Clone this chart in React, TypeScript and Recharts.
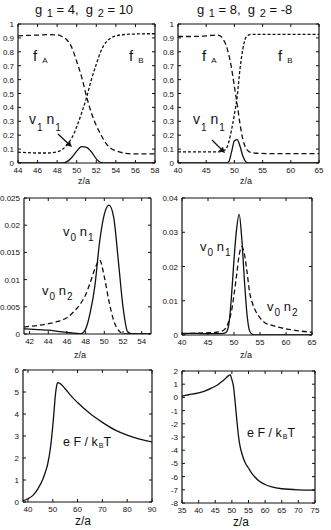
import { LineChart, Line, XAxis, YAxis, ReferenceLine } from 'recharts';

const FONT = '"Liberation Sans", Arial, Helvetica, sans-serif';
const INK = '#111';

// top left: g1 = 4, g2 = 10
const z1 = [44, 45, 46, 47, 48, 48.5, 49, 49.5, 50, 50.5, 51, 51.5, 52, 52.5, 53, 53.5, 54, 55, 56, 57, 58];
const fA1 = [0.915, 0.918, 0.92, 0.923, 0.922, 0.91, 0.885, 0.83, 0.73, 0.62, 0.48, 0.36, 0.27, 0.2, 0.14, 0.105, 0.088, 0.07, 0.065, 0.065, 0.065];
const fB1 = [0.078, 0.074, 0.072, 0.072, 0.08, 0.095, 0.13, 0.18, 0.26, 0.36, 0.47, 0.6, 0.71, 0.81, 0.87, 0.9, 0.915, 0.925, 0.928, 0.93, 0.93];
const vn1 = [0, 0, 0, 0, 0, 0, 0.01, 0.04, 0.085, 0.118, 0.112, 0.08, 0.03, 0.003, 0, 0, 0, 0, 0, 0, 0];

// top right: g1 = 8, g2 = -8
const z2 = [40, 42, 44, 46, 47, 47.5, 48, 48.5, 49, 49.5, 50, 50.5, 51, 51.5, 52, 52.5, 53, 54, 56, 58, 60, 62, 65];
const fA2 = [0.91, 0.91, 0.912, 0.918, 0.92, 0.915, 0.89, 0.85, 0.78, 0.68, 0.55, 0.42, 0.28, 0.17, 0.11, 0.085, 0.075, 0.07, 0.068, 0.068, 0.068, 0.068, 0.068];
const fB2 = [0.08, 0.08, 0.08, 0.08, 0.08, 0.082, 0.088, 0.1, 0.15, 0.24, 0.35, 0.48, 0.68, 0.82, 0.9, 0.92, 0.925, 0.925, 0.925, 0.925, 0.925, 0.925, 0.925];
const vn2 = [0, 0, 0, 0, 0, 0, 0, 0, 0.01, 0.08, 0.16, 0.168, 0.12, 0.05, 0.01, 0, 0, 0, 0, 0, 0, 0, 0];

// middle left
const z3 = [41.4, 42, 43, 44, 45, 46, 47, 47.5, 48, 48.5, 49, 49.5, 50, 50.5, 51, 51.5, 52, 52.5, 53, 54, 55];
const n1_3 = [0.00095, 0.0009, 0.0008, 0.0007, 0.0005, 0.0003, 0.0001, 0.00005, 0.0009, 0.004, 0.009, 0.017, 0.022, 0.0237, 0.0215, 0.0135, 0.005, 0.0004, 0, 0, 0];
const n2_3 = [0.0013, 0.0014, 0.0016, 0.0019, 0.0023, 0.003, 0.0046, 0.0057, 0.0072, 0.0095, 0.012, 0.0136, 0.0105, 0.006, 0.0025, 0.0007, 0.0001, 0, 0, 0, 0];

// middle right
const z4 = [40, 42, 44, 46, 47, 48, 48.5, 49, 49.5, 50, 50.5, 51, 51.5, 52, 52.5, 53, 53.5, 54, 55, 56, 57, 58, 60, 62, 65];
const n1_4 = [0.0005, 0.0005, 0.0004, 0.0004, 0.0004, 0.0005, 0.0008, 0.003, 0.011, 0.022, 0.031, 0.0352, 0.028, 0.016, 0.006, 0.0012, 0.0002, 0, 0, 0, 0, 0, 0, 0, 0];
const n2_4 = [0.0003, 0.0005, 0.0006, 0.0007, 0.0009, 0.0014, 0.0022, 0.004, 0.0068, 0.0117, 0.0175, 0.0234, 0.0258, 0.0236, 0.0185, 0.0125, 0.0095, 0.0075, 0.005, 0.0035, 0.003, 0.0025, 0.0018, 0.0013, 0.0008];

// bottom
const z5 = [38, 40, 42, 44, 46, 47, 48, 49, 50, 50.5, 51, 51.5, 52, 53, 55, 57, 60, 65, 70, 75, 80, 85, 90];
const F5 = [0.06, 0.15, 0.3, 0.6, 1.03, 1.35, 1.75, 2.4, 3.45, 4.1, 4.8, 5.25, 5.43, 5.38, 5.15, 4.87, 4.52, 4.02, 3.62, 3.28, 3.04, 2.86, 2.73];
const z6 = [35, 37, 40, 42, 44, 46, 47, 48, 49, 49.5, 50, 50.5, 51, 51.5, 52, 52.5, 53, 54, 55, 56, 57, 58, 60, 62, 65, 70, 75];
const F6 = [0.1, 0.2, 0.35, 0.5, 0.72, 1.0, 1.2, 1.42, 1.65, 1.7, 1.35, 0.8, -0.4, -1.75, -2.95, -3.75, -4.25, -4.95, -5.35, -5.75, -6.05, -6.3, -6.6, -6.78, -6.92, -7.0, -7.02];

const ticksF = [0, 0.1, 0.2, 0.3, 0.4, 0.5, 0.6, 0.7, 0.8, 0.9, 1];

type Series = { key: string; dash?: string };

interface PanelProps {
  box: [number, number, number, number];
  data: Record<string, number>[];
  xDomain: [number, number];
  xTicks: number[];
  yDomain: [number, number];
  yTicks: number[];
  series: Series[];
}

const PL = 40;
const PT = 6;
const PR = 6;
const PB = 30;

function Panel({ box, data, xDomain, xTicks, yDomain, yTicks, series }: PanelProps) {
  const [left, top, w, h] = box;
  const xTick = (p: any) => (
    <g>
      <line x1={p.x} x2={p.x} y1={p.y} y2={p.y - 3} stroke={INK} />
      <line x1={p.x} x2={p.x} y1={p.y - h} y2={p.y - h + 3} stroke={INK} />
      <text x={p.x} y={p.y + 10} textAnchor="middle" fontSize={8} fontFamily={FONT} fill={INK}>
        {p.payload.value}
      </text>
    </g>
  );
  const yTick = (p: any) => (
    <g>
      <line x1={p.x} x2={p.x + 3} y1={p.y} y2={p.y} stroke={INK} />
      <line x1={p.x + w} x2={p.x + w - 3} y1={p.y} y2={p.y} stroke={INK} />
      <text x={p.x - 4} y={p.y + 3} textAnchor="end" fontSize={8} fontFamily={FONT} fill={INK}>
        {p.payload.value}
      </text>
    </g>
  );
  return (
    <div style={{ position: 'absolute', left: left - PL, top: top - PT }}>
      <LineChart
        width={w + PL + PR}
        height={h + PT + PB}
        data={data}
        margin={{ top: PT, right: PR, left: 0, bottom: 0 }}
      >
        <XAxis
          dataKey="z"
          type="number"
          domain={xDomain}
          ticks={xTicks}
          interval={0}
          allowDataOverflow
          height={PB}
          tickSize={0}
          tickMargin={0}
          tickLine={false}
          tick={xTick}
          axisLine={{ stroke: INK, strokeWidth: 1.2 }}
        />
        <YAxis
          type="number"
          domain={yDomain}
          ticks={yTicks}
          interval={0}
          allowDataOverflow
          width={PL}
          tickSize={0}
          tickMargin={0}
          tickLine={false}
          tick={yTick}
          axisLine={{ stroke: INK, strokeWidth: 1.2 }}
        />
        <ReferenceLine y={yDomain[1]} stroke={INK} strokeWidth={1.2} />
        <ReferenceLine x={xDomain[1]} stroke={INK} strokeWidth={1.2} />
        {series.map((s) => (
          <Line
            key={s.key}
            dataKey={s.key}
            type="monotone"
            stroke={INK}
            strokeWidth={1.3}
            strokeDasharray={s.dash}
            dot={false}
            isAnimationActive={false}
          />
        ))}
      </LineChart>
    </div>
  );
}

type Part = [string, boolean];

function Rich({ x, y, size, sub, off, parts }: { x: number; y: number; size: number; sub: number; off: number; parts: Part[] }) {
  let shift = 0;
  return (
    <text x={x} y={y} fontSize={size} fontFamily={FONT} fill={INK} style={{ whiteSpace: 'pre' }}>
      {parts.map(([t, s], i) => {
        const target = s ? off : 0;
        const dy = target - shift;
        shift = target;
        return (
          <tspan key={i} dy={dy} dx={s ? 1 : 0} fontSize={s ? sub : size}>
            {t}
          </tspan>
        );
      })}
    </text>
  );
}

function Arrow({ x1, y1, x2, y2 }: { x1: number; y1: number; x2: number; y2: number }) {
  const len = Math.hypot(x2 - x1, y2 - y1);
  const dx = (x2 - x1) / len;
  const dy = (y2 - y1) / len;
  const bx = x2 - dx * 6;
  const by = y2 - dy * 6;
  const pts = `${x2},${y2} ${bx - dy * 3},${by + dx * 3} ${bx + dy * 3},${by - dx * 3}`;
  return (
    <g>
      <line x1={x1} y1={y1} x2={bx} y2={by} stroke={INK} strokeWidth={1.3} />
      <polygon points={pts} fill={INK} />
    </g>
  );
}

const zLabel = (x: number, y: number, size: number) => (
  <text x={x} y={y} textAnchor="middle" fontSize={size} fontFamily={FONT} fill={INK}>
    z/a
  </text>
);

export default function App() {
  const d1 = z1.map((z, i) => ({ z, fA: fA1[i], fB: fB1[i], vn: vn1[i] }));
  const d2 = z2.map((z, i) => ({ z, fA: fA2[i], fB: fB2[i], vn: vn2[i] }));
  const d3 = z3.map((z, i) => ({ z, n1: n1_3[i], n2: n2_3[i] }));
  const d4 = z4.map((z, i) => ({ z, n1: n1_4[i], n2: n2_4[i] }));
  const d5 = z5.map((z, i) => ({ z, F: F5[i] }));
  const d6 = z6.map((z, i) => ({ z, F: F6[i] }));

  const fSeries: Series[] = [
    { key: 'fA', dash: '5 3' },
    { key: 'fB', dash: '3 2' },
    { key: 'vn' },
  ];
  const nSeries: Series[] = [{ key: 'n1' }, { key: 'n2', dash: '5 3' }];

  return (
    <div style={{ position: 'absolute', left: 0, top: 0, width: 331, height: 530, background: '#fff', overflow: 'hidden' }}>
      <Panel box={[18, 24, 137, 139]} data={d1} xDomain={[44, 58]} xTicks={[44, 46, 48, 50, 52, 54, 56, 58]} yDomain={[0, 1]} yTicks={ticksF} series={fSeries} />
      <Panel box={[178, 24, 141, 139]} data={d2} xDomain={[40, 65]} xTicks={[40, 45, 50, 55, 60, 65]} yDomain={[0, 1]} yTicks={ticksF} series={fSeries} />
      <Panel box={[24, 198, 127, 136]} data={d3} xDomain={[41.4, 55]} xTicks={[42, 44, 46, 48, 50, 52, 54]} yDomain={[0, 0.025]} yTicks={[0, 0.005, 0.01, 0.015, 0.02, 0.025]} series={nSeries} />
      <Panel box={[182, 198, 130, 137]} data={d4} xDomain={[40, 65]} xTicks={[40, 45, 50, 55, 60, 65]} yDomain={[0, 0.04]} yTicks={[0, 0.01, 0.02, 0.03, 0.04]} series={nSeries} />
      <Panel box={[23, 370, 129, 132]} data={d5} xDomain={[38, 90]} xTicks={[40, 50, 60, 70, 80, 90]} yDomain={[0, 6]} yTicks={[0, 1, 2, 3, 4, 5, 6]} series={[{ key: 'F' }]} />
      <Panel box={[182, 371, 133, 132]} data={d6} xDomain={[35, 75]} xTicks={[35, 40, 45, 50, 55, 60, 65, 70, 75]} yDomain={[-8, 2]} yTicks={[-8, -7, -6, -5, -4, -3, -2, -1, 0, 1, 2]} series={[{ key: 'F' }]} />

      <svg width={331} height={530} style={{ position: 'absolute', left: 0, top: 0, pointerEvents: 'none' }}>
        <Rich x={35} y={14} size={13} sub={11} off={3} parts={[['g ', false], ['1', true], [' = 4,  g ', false], ['2', true], [' = 10', false]]} />
        <Rich x={197} y={14} size={13} sub={11} off={3} parts={[['g ', false], ['1', true], [' = 8,  g ', false], ['2', true], [' = -8', false]]} />

        <Rich x={33} y={61} size={15} sub={8} off={2} parts={[['f ', false], ['A', true]]} />
        <Rich x={129} y={61} size={15} sub={8} off={2} parts={[['f ', false], ['B', true]]} />
        <Rich x={29} y={124} size={14} sub={10} off={7} parts={[['v', false], ['1', true], [' n', false], ['1', true]]} />
        <Arrow x1={58} y1={134} x2={72} y2={147} />

        <Rich x={202} y={61} size={15} sub={8} off={2} parts={[['f ', false], ['A', true]]} />
        <Rich x={278} y={61} size={15} sub={8} off={2} parts={[['f ', false], ['B', true]]} />
        <Rich x={193} y={124} size={14} sub={10} off={7} parts={[['v', false], ['1', true], [' n', false], ['1', true]]} />
        <Arrow x1={212} y1={140} x2={225} y2={153} />

        <Rich x={63} y={236} size={13} sub={10} off={5} parts={[['v', false], ['0', true], [' n', false], ['1', true]]} />
        <Rich x={42} y={295} size={13} sub={10} off={5} parts={[['v', false], ['0', true], [' n', false], ['2', true]]} />
        <Rich x={200} y={251} size={13} sub={10} off={5} parts={[['v', false], ['0', true], [' n', false], ['1', true]]} />
        <Rich x={267} y={311} size={13} sub={10} off={5} parts={[['v', false], ['0', true], [' n', false], ['2', true]]} />

        <Rich x={63} y={446} size={12.5} sub={7} off={2} parts={[['e F / k', false], ['B', true], ['T', false]]} />
        <Rich x={247} y={437} size={12.5} sub={7} off={2} parts={[['e F / k', false], ['B', true], ['T', false]]} />

        {zLabel(84, 184, 9)}
        {zLabel(246, 184, 9)}
        {zLabel(80, 358, 9)}
        {zLabel(246, 358, 9)}
        {zLabel(83, 525, 12)}
        {zLabel(241, 526, 12)}
      </svg>
    </div>
  );
}
